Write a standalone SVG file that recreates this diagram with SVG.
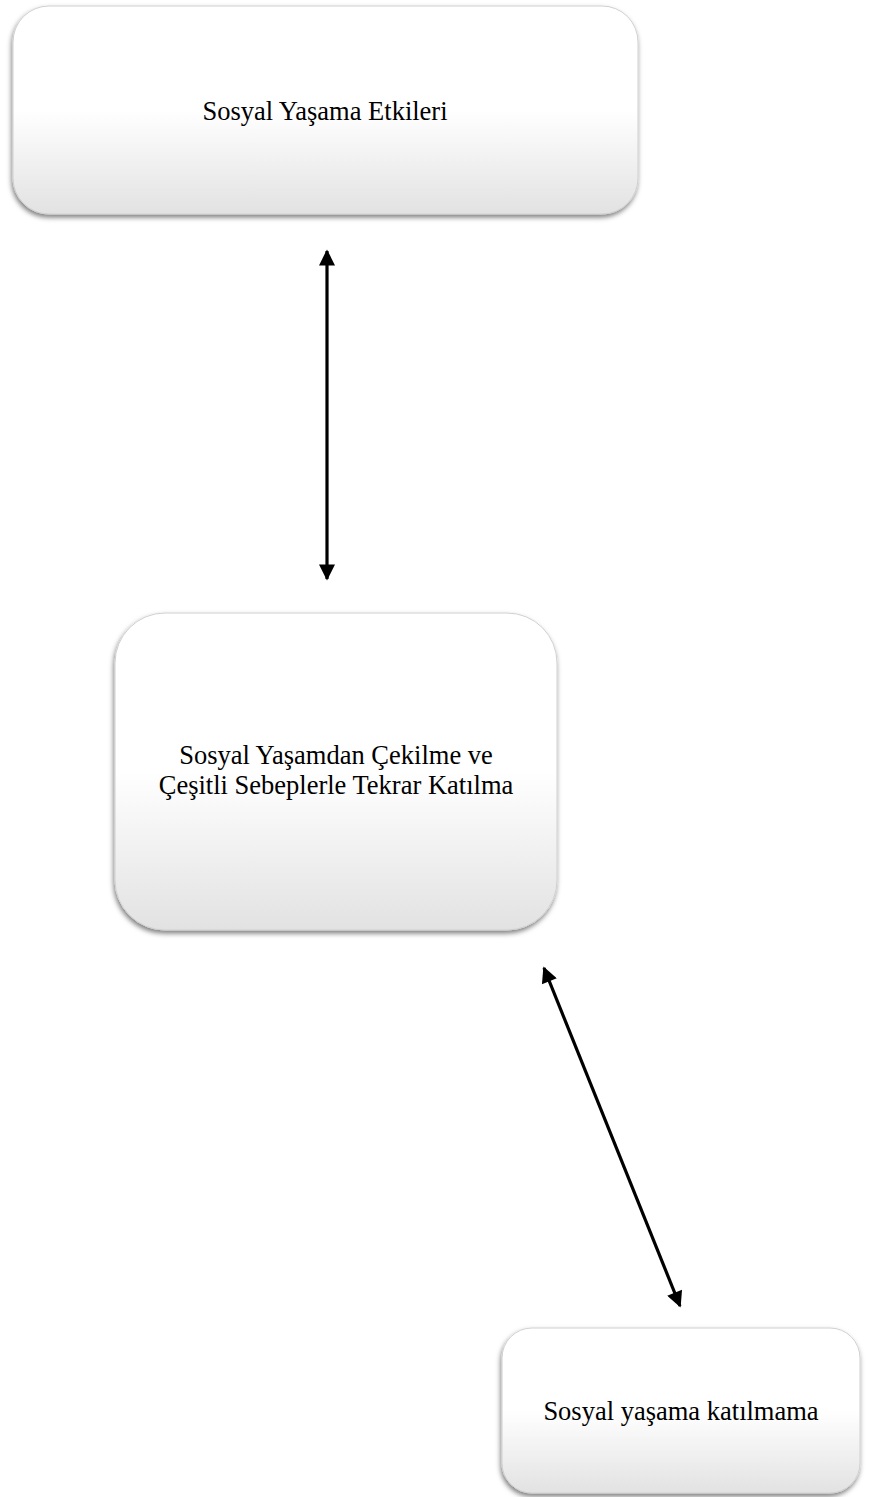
<svg xmlns="http://www.w3.org/2000/svg" width="872" height="1497" viewBox="0 0 872 1497">
  <defs>
    <linearGradient id="boxFill" x1="0" y1="0" x2="0" y2="1">
      <stop offset="0" stop-color="#ffffff"/>
      <stop offset="0.5" stop-color="#ffffff"/>
      <stop offset="1" stop-color="#e2e2e2"/>
    </linearGradient>
    <filter id="shade" x="-10%" y="-10%" width="120%" height="125%">
      <feDropShadow dx="-1" dy="3" stdDeviation="2.5" flood-color="#000000" flood-opacity="0.5"/>
    </filter>
    <marker id="head" viewBox="0 0 10 10" refX="9" refY="5" markerWidth="5.5" markerHeight="5" orient="auto-start-reverse" markerUnits="strokeWidth">
      <path d="M0,0 L10,5 L0,10 z" fill="#000"/>
    </marker>
  </defs>
  <style>
    .box { fill: url(#boxFill); stroke: #d0d0d0; stroke-width: 1; filter: url(#shade); }
    .label { font-family: "Liberation Serif", "Times New Roman", serif; font-size: 26.5px; fill: #000; text-anchor: middle; }
    .link { stroke: #000; stroke-width: 3.2; fill: none; marker-start: url(#head); marker-end: url(#head); }
  </style>
  <rect width="872" height="1497" fill="#ffffff"/>

  <g id="node-etkiler">
    <rect class="box" x="13" y="6" width="625" height="208" rx="36"/>
    <text class="label" x="325" y="120">Sosyal Yaşama Etkileri</text>
  </g>

  <g id="node-cekilme">
    <rect class="box" x="115" y="613" width="442" height="317" rx="50"/>
    <text class="label" x="336" y="764">Sosyal Yaşamdan Çekilme ve</text>
    <text class="label" x="336" y="794">Çeşitli Sebeplerle Tekrar Katılma</text>
  </g>

  <g id="node-katilmama">
    <rect class="box" x="502" y="1328" width="358" height="165" rx="30"/>
    <text class="label" x="681" y="1420">Sosyal yaşama katılmama</text>
  </g>

  <g id="connectors">
    <line class="link" x1="327" y1="251" x2="327" y2="579"/>
    <line class="link" x1="544" y1="968" x2="680" y2="1306"/>
  </g>
</svg>
